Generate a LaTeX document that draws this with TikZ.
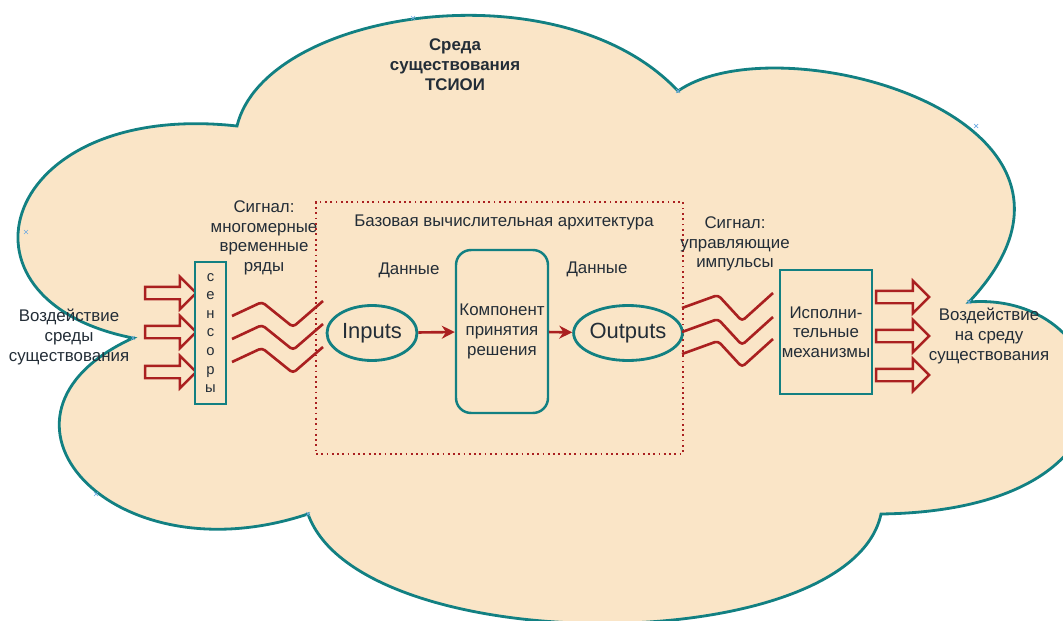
\documentclass[tikz,border=0pt]{standalone}
\usepackage{fontspec}
\setmainfont{Liberation Sans}
\usetikzlibrary{arrows.meta,positioning,shapes.arrows,shapes.geometric}
\definecolor{peach}{RGB}{250,229,199}
\definecolor{tealline}{RGB}{18,128,130}
\definecolor{darkred}{RGB}{170,32,32}
\definecolor{txt}{RGB}{35,45,55}
\definecolor{markblue}{RGB}{110,170,225}

\begin{document}
\begin{tikzpicture}[
        x=0.02cm, y=0.02cm,
        lbl/.style={text=txt, align=center, font=\fontsize{9.6}{11.2}\selectfont, inner sep=0pt},
        tbox/.style={draw=tealline, line width=1.4pt, fill=peach, align=center, text=txt, font=\fontsize{9.6}{11.2}\selectfont, inner sep=0pt},
        ell/.style={ellipse, draw=tealline, line width=1.6pt, fill=peach, minimum width=1.8cm, minimum height=1.1cm, text=txt, font=\fontsize{12.5}{14}\selectfont, inner sep=0pt},
        blockarr/.style={single arrow, draw=darkred, line width=1.4pt, fill=peach, minimum height=1.02cm, single arrow head extend=0.2cm, inner xsep=0pt, inner ysep=0.1cm},
        wave/.style={draw=darkred, line width=1.5pt, rounded corners=2pt},
        flow/.style={-{Stealth[length=2.6mm, width=2.6mm]}, draw=darkred, line width=1.5pt},
        cloudline/.style={draw=tealline, fill=peach, line width=1.6pt}
    ]
        \useasboundingbox (0,0) rectangle (1063,620);

        % cloud = environment
        \path[cloudline] (133,282) .. controls (-60,320) and (0,520) .. (237,494)
            .. controls (265,610) and (560,655) .. (678,529)
            .. controls (780,600) and (1140,500) .. (969,318)
            .. controls (1120,330) and (1170,110) .. (881,106)
            .. controls (850,-40) and (360,-40) .. (308,106)
            .. controls (110,40) and (-35,205) .. cycle;
        \foreach \p in {(413,602),(678,529),(976,494),(26,388),(96,126),(308,106),(969,318),(133,282)}
            \draw[markblue, line width=0.4pt] \p ++(-2,-2) -- ++(4,4) ++(-4,0) -- ++(4,-4);

        \node[lbl, font=\bfseries\fontsize{9.6}{11.3}\selectfont] (title) at (455,555) {Среда\\существования\\ТСИОИ};

        % input side
        \node[lbl] (envin) at (69,283) {Воздействие\\среды\\существования};
        \foreach \yy/\nm in {327/1, 288/2, 248/3}
            \node[blockarr] (inarr\nm) at (167.5,\yy) {};
        \node[tbox, minimum width=0.62cm, minimum height=2.84cm, font=\fontsize{8.4}{10.6}\selectfont] (sens) at (210.5,287) {с\\е\\н\\с\\о\\р\\ы};
        \foreach \yy in {304,281,258}
            \draw[wave] (232,\yy) -- ++(30,14) -- ++(31,-25) -- ++(30,26);
        \node[lbl] (sigin) at (264,382) {Сигнал:\\многомерные\\временные\\ряды};

        % base architecture
        \node[draw=darkred, dotted, line width=1pt, minimum width=7.34cm, minimum height=5.04cm, inner sep=0pt] (arch) at (499.5,292) {};
        \node[lbl] (archlbl) at (504,398) {Базовая вычислительная архитектура};
        \node[ell] (inp) at (372,287) {Inputs};
        \node[tbox, rounded corners=0.3cm, minimum width=1.84cm, minimum height=3.26cm] (dec) at (502,288.5) {Компонент\\принятия\\решения};
        \node[ell, minimum width=1.76cm] (outp) at (628,287) {Outputs};
        \node[lbl] (din) at (409,350) {Данные};
        \node[lbl] (dout) at (597,351) {Данные};
        \draw[flow] (inp) -- (dec);
        \draw[flow] (dec) -- (outp);

        % output side
        \foreach \yy in {312,288,266}
            \draw[wave] (682,\yy) -- ++(36,13) -- ++(24,-26) -- ++(31,28);
        \node[lbl] (sigout) at (735,376) {Сигнал:\\управляющие\\импульсы};
        \node[tbox, minimum width=1.84cm, minimum height=2.48cm] (eff) at (826,288) {Исполни-\\тельные\\механизмы};
        \foreach \yy/\nm in {323/1, 284/2, 245/3}
            \node[blockarr, minimum height=1.06cm] (outarr\nm) at (899.5,\yy) {};
        \node[lbl] (envout) at (989,284) {Воздействие\\на среду\\существования};
    \end{tikzpicture}
\end{document}
